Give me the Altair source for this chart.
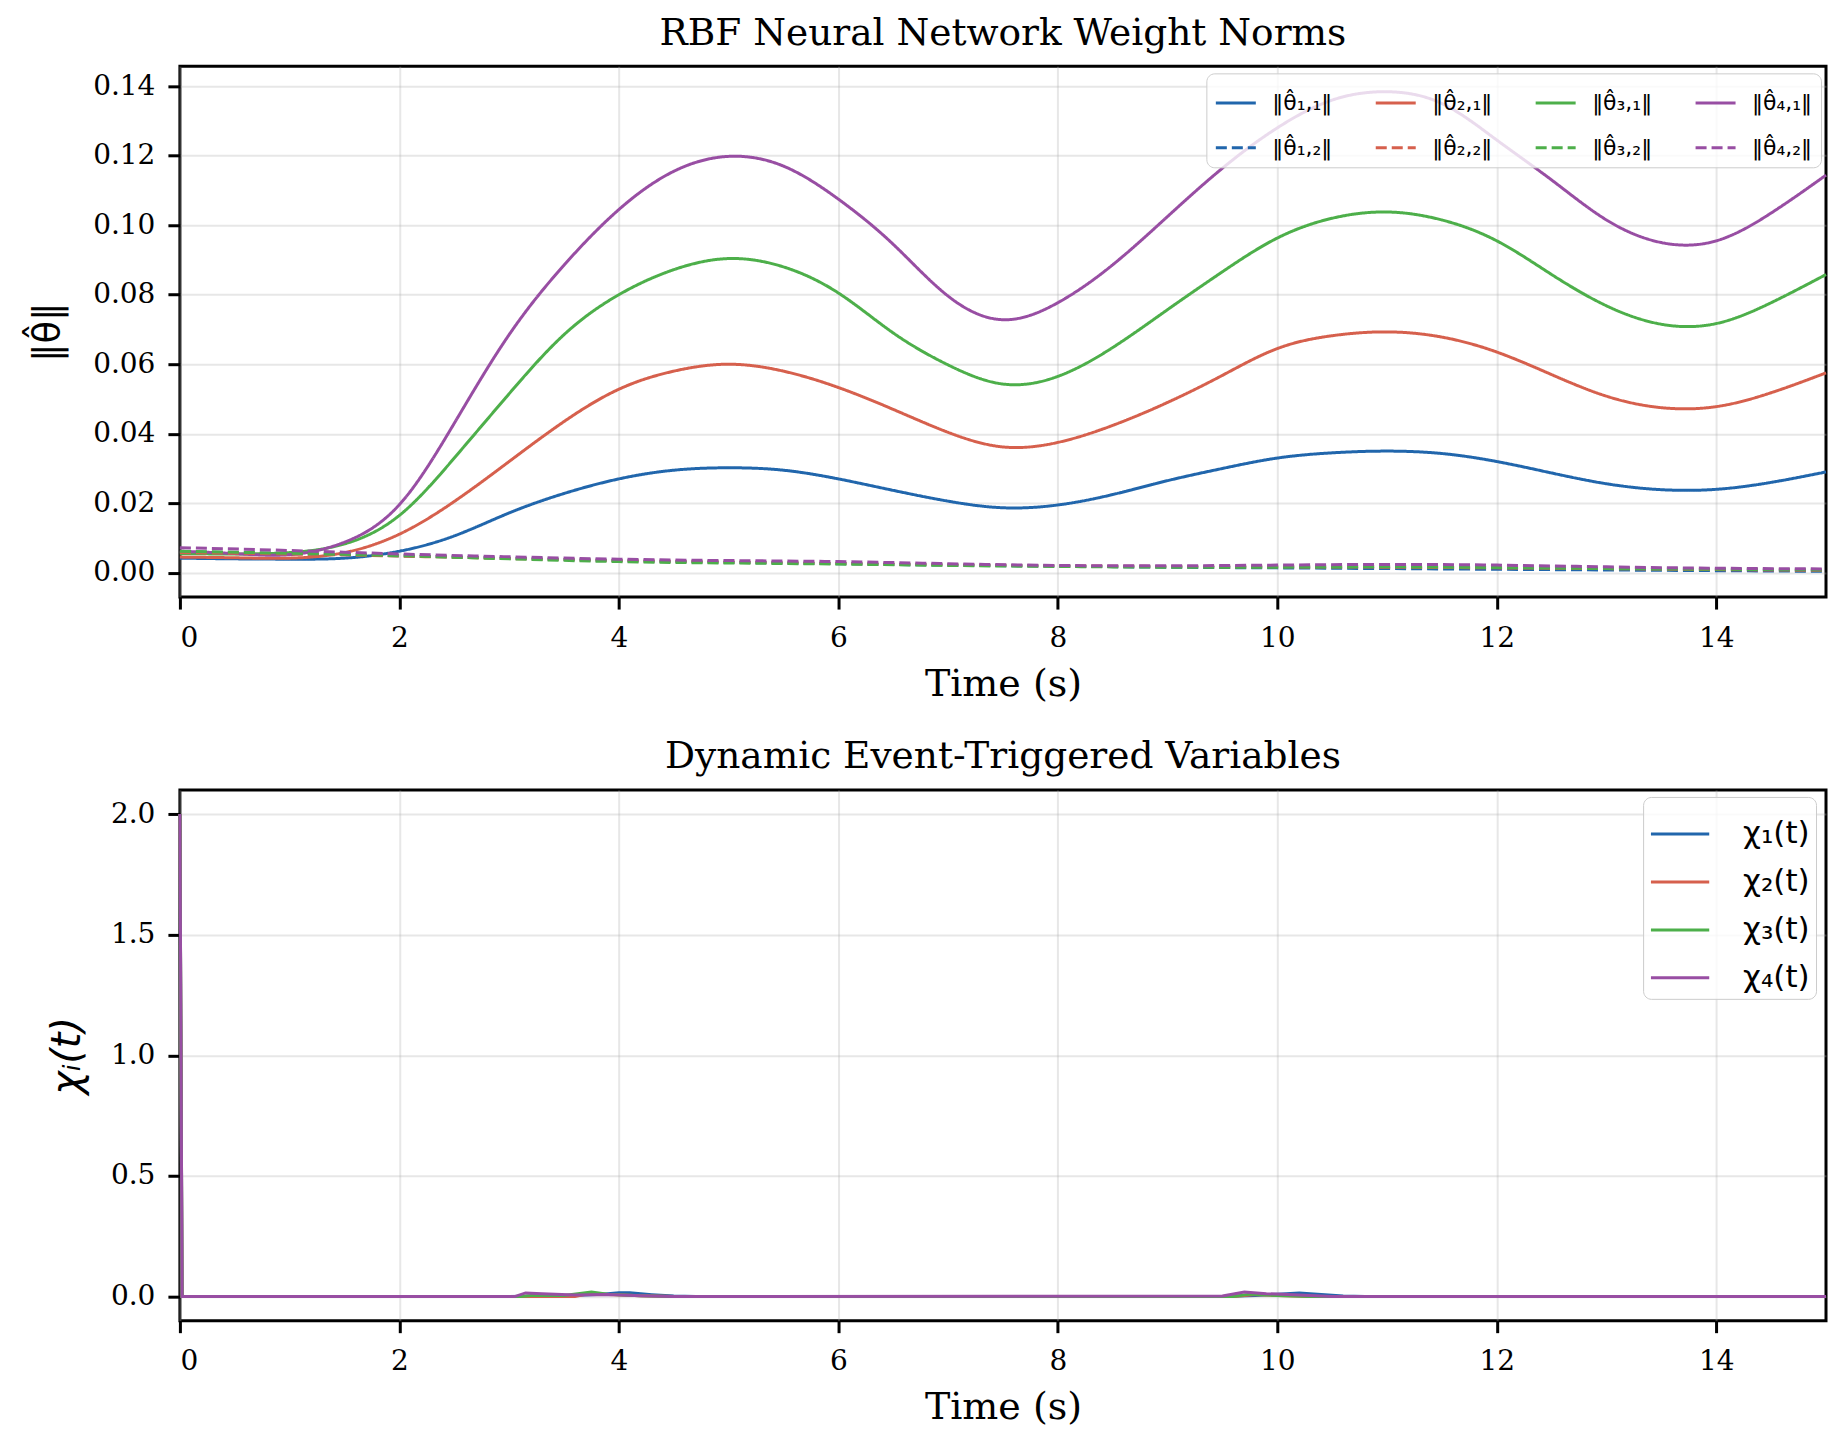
import altair as alt
import pandas as pd

# ---------------- data: top panel (weight norms) ----------------
T_SOLID = [0, 0.5, 1, 1.5, 2, 2.5, 3, 3.5, 4, 4.5, 5, 5.5, 6, 6.5, 7, 7.5,
           8, 8.5, 9, 9.5, 10, 10.5, 11, 11.5, 12, 12.5, 13, 13.5, 14, 14.5, 15]
theta11 = [0.0042, 0.0040, 0.0039, 0.0042, 0.0062, 0.0106, 0.0172, 0.0228, 0.0270, 0.0295,
           0.0302, 0.0295, 0.0270, 0.0237, 0.0206, 0.0187, 0.0195, 0.0225, 0.0265, 0.0300,
           0.0330, 0.0345, 0.0350, 0.0343, 0.0320, 0.0287, 0.0256, 0.0239, 0.0240, 0.0260, 0.0290]
theta21 = [0.0045, 0.0043, 0.0042, 0.0058, 0.0111, 0.0205, 0.0320, 0.0435, 0.0528, 0.0580,
           0.0600, 0.0580, 0.0533, 0.0470, 0.0404, 0.0362, 0.0375, 0.0424, 0.0490, 0.0568,
           0.0645, 0.0682, 0.0693, 0.0678, 0.0635, 0.0570, 0.0508, 0.0475, 0.0478, 0.0518, 0.0575]
theta31 = [0.0055, 0.0054, 0.0058, 0.0083, 0.0165, 0.0330, 0.0515, 0.0685, 0.0800, 0.0872,
           0.0904, 0.0880, 0.0805, 0.0690, 0.0598, 0.0543, 0.0565, 0.0648, 0.0757, 0.0866,
           0.0963, 0.1020, 0.1038, 0.1015, 0.0955, 0.0858, 0.0768, 0.0715, 0.0717, 0.0777, 0.0858]
theta41 = [0.0062, 0.0055, 0.0052, 0.0088, 0.0196, 0.0430, 0.0685, 0.0885, 0.1045, 0.1155,
           0.1198, 0.1170, 0.1075, 0.0945, 0.0796, 0.0728, 0.0777, 0.0886, 0.1025, 0.1164,
           0.1280, 0.1360, 0.1384, 0.1350, 0.1245, 0.1130, 0.1015, 0.0950, 0.0955, 0.1035, 0.1144]

T_DASH = [0, 1, 2, 3, 4, 5, 6, 7, 8, 9, 10, 11, 12, 13, 14, 15]
theta12 = [0.0060, 0.0055, 0.0049, 0.0042, 0.0035, 0.0030, 0.0026, 0.0022,
           0.0019, 0.0016, 0.0014, 0.0012, 0.0010, 0.0008, 0.0006, 0.0004]
theta22 = [0.0058, 0.0054, 0.0048, 0.0041, 0.0035, 0.0031, 0.0027, 0.0023,
           0.0020, 0.0018, 0.0017, 0.0016, 0.0014, 0.0012, 0.0009, 0.0007]
theta32 = [0.0062, 0.0056, 0.0049, 0.0040, 0.0032, 0.0028, 0.0025, 0.0021,
           0.0018, 0.0016, 0.0016, 0.0017, 0.0015, 0.0012, 0.0010, 0.0008]
theta42 = [0.0072, 0.0064, 0.0054, 0.0046, 0.0039, 0.0035, 0.0032, 0.0026,
           0.0021, 0.0020, 0.0022, 0.0024, 0.0022, 0.0017, 0.0013, 0.0011]

SOLID_LABELS = ["‖θ̂₁,₁‖", "‖θ̂₂,₁‖", "‖θ̂₃,₁‖", "‖θ̂₄,₁‖"]
DASH_LABELS = ["‖θ̂₁,₂‖", "‖θ̂₂,₂‖", "‖θ̂₃,₂‖", "‖θ̂₄,₂‖"]

# ---------------- data: bottom panel (event-triggered variables) ----------------
chi1_t = [0, 0.02, 3.0, 3.5, 3.8, 4.0, 4.1, 4.3, 4.5, 4.7, 9.5, 9.8, 10.0, 10.2, 10.4, 10.6, 10.8, 15]
chi1_v = [2.0, 0.0, 0.0, 0.003, 0.008, 0.016, 0.016, 0.008, 0.002, 0.0, 0.0, 0.004, 0.010, 0.015, 0.008, 0.002, 0.0, 0.0]
chi2_t = [0, 0.02, 3.6, 3.75, 3.9, 4.2, 4.5, 9.6, 9.8, 10.0, 10.3, 15]
chi2_v = [2.0, 0.0, 0.0, 0.015, 0.008, 0.003, 0.0, 0.0, 0.008, 0.004, 0.0, 0.0]
chi3_t = [0, 0.02, 3.1, 3.2, 3.5, 3.75, 3.9, 4.2, 4.5, 9.6, 9.75, 10.0, 10.3, 15]
chi3_v = [2.0, 0.0, 0.0, 0.004, 0.004, 0.019, 0.010, 0.003, 0.0, 0.0, 0.010, 0.004, 0.0, 0.0]
chi4_t = [0, 0.02, 3.05, 3.15, 3.3, 3.6, 3.9, 4.2, 4.5, 9.5, 9.7, 9.9, 10.2, 10.5, 15]
chi4_v = [2.0, 0.0, 0.0, 0.015, 0.012, 0.006, 0.008, 0.003, 0.0, 0.002, 0.019, 0.012, 0.006, 0.0, 0.0]

CHI_LABELS = ["χ₁(t)", "χ₂(t)", "χ₃(t)", "χ₄(t)"]

COLORS = ["#2166ac", "#d6604d", "#4daf4a", "#984ea3"]
SOLID = [1, 0]
DASHED = [11, 5]

# ---------------- build tables ----------------
rows = []
for lab, vals in zip(SOLID_LABELS, [theta11, theta21, theta31, theta41]):
    for t, v in zip(T_SOLID, vals):
        rows.append({"t": t, "v": v, "series": lab})
for lab, vals in zip(DASH_LABELS, [theta12, theta22, theta32, theta42]):
    for t, v in zip(T_DASH, vals):
        rows.append({"t": t, "v": v, "series": lab})
df_top = pd.DataFrame(rows)

# legend is filled column by column (2 rows x 4 columns)
theta_domain, theta_colors, theta_dash = [], [], []
for s_lab, d_lab, c in zip(SOLID_LABELS, DASH_LABELS, COLORS):
    theta_domain += [s_lab, d_lab]
    theta_colors += [c, c]
    theta_dash += [SOLID, DASHED]

rows = []
for lab, ts, vs in zip(CHI_LABELS, [chi1_t, chi2_t, chi3_t, chi4_t],
                       [chi1_v, chi2_v, chi3_v, chi4_v]):
    for t, v in zip(ts, vs):
        rows.append({"t": t, "v": v, "series": lab})
df_bot = pd.DataFrame(rows)

W, H = 1647, 531
SERIF = "DejaVu Serif"
SANS = "DejaVu Sans"

def x_axis():
    return alt.X("t:Q", scale=alt.Scale(domain=[0, 15], nice=False, zero=False),
                 axis=alt.Axis(title="Time (s)", values=[0, 2, 4, 6, 8, 10, 12, 14],
                               format="d", labelPadding=15, titlePadding=13))

top_legend = alt.Legend(title=None, orient="none", legendX=1027, legendY=7,
                        columns=4, columnPadding=36, rowPadding=12,
                        symbolType="stroke", symbolSize=1600, symbolStrokeWidth=3,
                        labelFont=SANS, labelFontSize=22, labelOffset=15,
                        labelLimit=300,
                        strokeColor="#cccccc", fillColor="rgba(255,255,255,0.8)",
                        cornerRadius=8, padding=8)

top = alt.Chart(df_top).mark_line(strokeWidth=3, interpolate="natural").encode(
    x=x_axis(),
    y=alt.Y("v:Q", scale=alt.Scale(domain=[-0.007, 0.1457], nice=False, zero=False),
            axis=alt.Axis(title="‖θ̂‖", values=[0, 0.02, 0.04, 0.06, 0.08, 0.10, 0.12, 0.14],
                          format=".2f", titleFont=SANS, titleFontSize=37, titlePadding=26,
                          labelPadding=13)),
    color=alt.Color("series:N", scale=alt.Scale(domain=theta_domain, range=theta_colors),
                    legend=top_legend),
    strokeDash=alt.StrokeDash("series:N",
                              scale=alt.Scale(domain=theta_domain, range=theta_dash),
                              legend=top_legend),
    detail="series:N",
).properties(width=W, height=H,
             title=alt.TitleParams("RBF Neural Network Weight Norms"))

bot_legend = alt.Legend(title=None, orient="none", legendX=1464, legendY=7,
                        symbolType="stroke", symbolSize=3400, symbolStrokeWidth=3,
                        labelFont=SANS, labelFontSize=31, labelOffset=32,
                        rowPadding=2,
                        strokeColor="#cccccc", fillColor="rgba(255,255,255,0.8)",
                        cornerRadius=8, padding=6)

bot = alt.Chart(df_bot).mark_line(strokeWidth=3).encode(
    x=x_axis(),
    y=alt.Y("v:Q", scale=alt.Scale(domain=[-0.1, 2.1], nice=False, zero=False),
            axis=alt.Axis(title="χᵢ(t)", values=[0, 0.5, 1.0, 1.5, 2.0], format=".1f",
                          titleFont=SANS, titleFontSize=40, titleFontStyle="italic",
                          titlePadding=23, labelPadding=13)),
    color=alt.Color("series:N", scale=alt.Scale(domain=CHI_LABELS, range=COLORS),
                    legend=bot_legend),
    detail="series:N",
).properties(width=W, height=H,
             title=alt.TitleParams("Dynamic Event-Triggered Variables"))

chart = alt.vconcat(top, bot, spacing=32).resolve_scale(
    color="independent", strokeDash="independent"
).resolve_legend(
    color="independent", strokeDash="independent"
).properties(
    padding={"left": 19, "top": 5, "right": 2, "bottom": 5}
).configure_view(
    stroke="black", strokeWidth=3
).configure_axis(
    domain=False,
    grid=True, gridColor="#b0b0b0", gridOpacity=0.3, gridWidth=2,
    ticks=True, tickColor="black", tickWidth=3, tickSize=12,
    labelFont=SERIF, labelFontSize=28, labelColor="black",
    titleFont=SERIF, titleFontSize=38, titleFontWeight="normal", titleColor="black",
).configure_title(
    font=SERIF, fontSize=37.5, fontWeight="normal", color="black", offset=14, anchor="middle"
).configure_legend(
    labelColor="black"
)

chart.save("out.html", embed_options={"renderer": "svg", "actions": False})
